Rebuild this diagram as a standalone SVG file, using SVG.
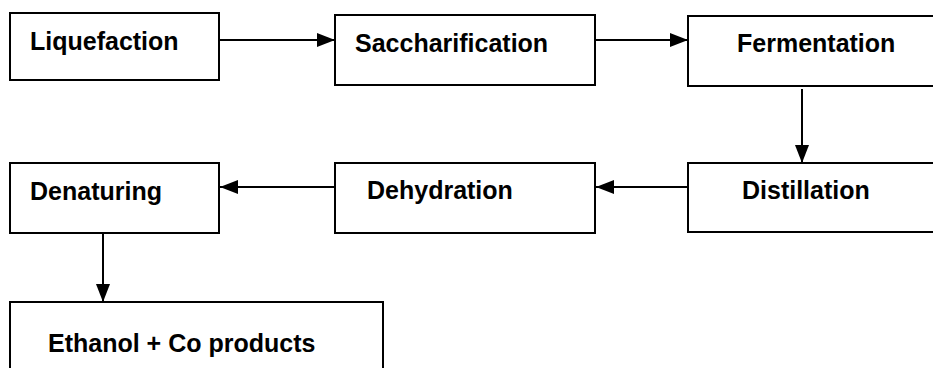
<svg xmlns="http://www.w3.org/2000/svg" width="933" height="368" viewBox="0 0 933 368">
<style>
.box{fill:#fff;stroke:#000;stroke-width:2}
.lbl{font-family:"Liberation Sans",Arial,sans-serif;font-weight:bold;font-size:25px;fill:#000}
.con{stroke:#000;stroke-width:2;fill:none;marker-end:url(#ah)}
</style>
<defs>
<marker id="ah" markerUnits="userSpaceOnUse" markerWidth="20" markerHeight="14" refX="18" refY="7" orient="auto">
<path d="M0,0 L18,7 L0,14 Z" fill="#000"/>
</marker>
</defs>
<rect width="933" height="368" fill="#fff"/>
<g id="connectors">
<line class="con" x1="219" y1="40" x2="335" y2="40"/>
<line class="con" x1="595" y1="40" x2="688" y2="40"/>
<line class="con" x1="802" y1="89" x2="802" y2="163"/>
<line class="con" x1="688" y1="187" x2="596" y2="187"/>
<line class="con" x1="335" y1="187" x2="220" y2="187"/>
<line class="con" x1="103" y1="233" x2="103" y2="302"/>
</g>
<g id="liquefaction">
<rect class="box" x="10" y="13" width="209" height="67"/>
<text class="lbl" x="30" y="50">Liquefaction</text>
</g>
<g id="saccharification">
<rect class="box" x="335" y="15" width="260" height="70"/>
<text class="lbl" x="355" y="52">Saccharification</text>
</g>
<g id="fermentation">
<rect class="box" x="688" y="16" width="260" height="70"/>
<text class="lbl" x="737" y="52" font-size="24">Fermentation</text>
</g>
<g id="distillation">
<rect class="box" x="688" y="163" width="260" height="69"/>
<text class="lbl" x="742" y="199" font-size="24">Distillation</text>
</g>
<g id="dehydration">
<rect class="box" x="335" y="163" width="260" height="70"/>
<text class="lbl" x="367" y="199">Dehydration</text>
</g>
<g id="denaturing">
<rect class="box" x="10" y="163" width="209" height="70"/>
<text class="lbl" x="30" y="200">Denaturing</text>
</g>
<g id="ethanol">
<rect class="box" x="10" y="302" width="373" height="80"/>
<text class="lbl" x="48" y="352">Ethanol + Co products</text>
</g>
</svg>
